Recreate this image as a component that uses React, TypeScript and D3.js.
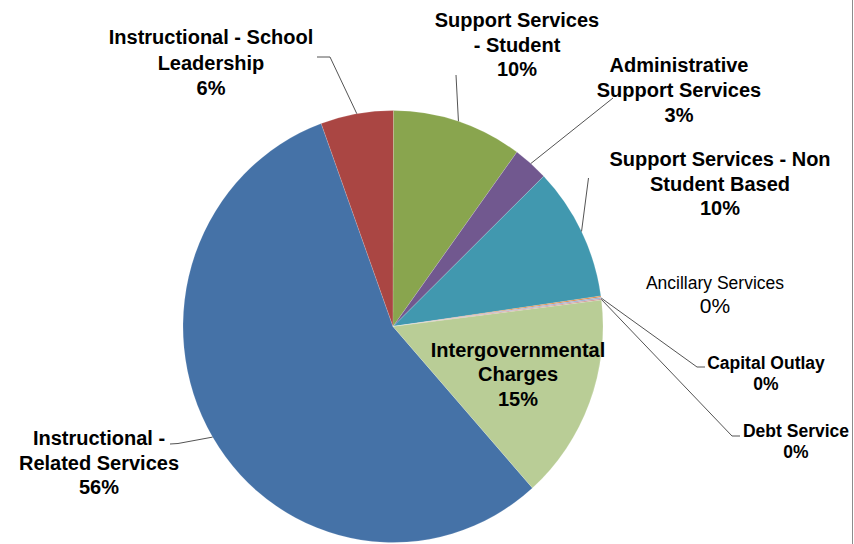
import React from "react";
import * as d3 from "d3";

// ---- data (Excel series order) ----
const categories = [
  "Instructional - Related Services",
  "Instructional - School Leadership",
  "Support Services - Student",
  "Administrative Support Services",
  "Support Services - Non Student Based",
  "Ancillary Services",
  "Capital Outlay",
  "Debt Service",
  "Intergovernmental Charges",
];
const values = [56.0, 5.6, 10.0, 2.7, 10.0, 0.1, 0.1, 0.1, 15.4];
const colors = [
  "#4572A7",
  "#AA4643",
  "#89A54E",
  "#71588F",
  "#4198AF",
  "#DB843D",
  "#93A9CF",
  "#D19392",
  "#B9CD96",
];
const labelLines = [
  ["Instructional -", "Related Services"],
  ["Instructional - School", "Leadership"],
  ["Support Services", "- Student"],
  ["Administrative", "Support Services"],
  ["Support Services - Non", "Student Based"],
  ["Ancillary Services"],
  ["Capital Outlay"],
  ["Debt Service"],
  ["Intergovernmental", "Charges"],
];

// ---- layout ----
const W = 854;
const H = 544;
const CX = 393;
const CY = 326.5;
const RX = 210;
const RY = 216;
const FIRST_SLICE_DEG = 138.4;

type Layout = {
  x: number;
  y: number; // first baseline
  lh: number;
  size: number;
  weight: string;
  pctSize?: number;
  leader?: [number, number][]; // from label side toward pie
};

const layouts: Layout[] = [
  { x: 99, y: 445, lh: 24.5, size: 20, weight: "bold", leader: [[170, 444], [178, 443.5]] },
  { x: 211, y: 44, lh: 25.5, size: 20, weight: "bold", leader: [[317, 57], [330, 57]] },
  { x: 517, y: 27, lh: 24.5, size: 20, weight: "bold", leader: [[456, 75]] },
  { x: 679, y: 72, lh: 25, size: 20, weight: "bold", leader: [[613, 98]] },
  { x: 720, y: 166, lh: 24.5, size: 20, weight: "bold", leader: [[588.5, 178]] },
  { x: 715, y: 289, lh: 24, size: 17.5, weight: "normal", pctSize: 21 },
  { x: 766, y: 369, lh: 21, size: 17.5, weight: "bold", leader: [[705, 367], [697, 367]] },
  { x: 796, y: 437, lh: 21, size: 17.5, weight: "bold", leader: [[740, 436], [732, 436]] },
  { x: 518, y: 356.5, lh: 24.5, size: 20, weight: "bold" },
];

export default function App() {
  const total = d3.sum(values);
  const start = (FIRST_SLICE_DEG * Math.PI) / 180;
  const pie = d3
    .pie<number>()
    .sort(null)
    .value((d) => d)
    .startAngle(start)
    .endAngle(start + 2 * Math.PI);
  const arcs = pie(values);
  const arcGen = d3.arc<d3.PieArcDatum<number>>().innerRadius(0).outerRadius(RY);
  const sx = RX / RY;

  const edgePoint = (a: d3.PieArcDatum<number>): [number, number] => {
    const m = (a.startAngle + a.endAngle) / 2;
    return [CX + RX * Math.sin(m), CY - RY * Math.cos(m)];
  };

  const font = "'Liberation Sans', Arial, Helvetica, sans-serif";

  return (
    <svg
      width={W}
      height={H}
      style={{ position: "absolute", left: 0, top: 0, background: "#fff" }}
      fontFamily={font}
    >
      <rect x={0} y={0} width={W} height={H} fill="#fff" />
      <g transform={`translate(${CX},${CY}) scale(${sx},1)`}>
        {arcs.map((a, i) => (
          <path
            key={categories[i]}
            d={arcGen(a) || ""}
            fill={colors[i]}
            stroke="#ffffff"
            strokeOpacity={0.3}
            strokeWidth={0.5}
            vectorEffect="non-scaling-stroke"
          />
        ))}
      </g>
      {arcs.map((a, i) => {
        const L = layouts[i];
        if (!L.leader) return null;
        const pts = [...L.leader, edgePoint(a)];
        const line = d3.line()(pts as [number, number][]) || "";
        return <path key={"l" + i} d={line} fill="none" stroke="#404040" strokeWidth={0.9} />;
      })}
      {arcs.map((a, i) => {
        const L = layouts[i];
        const pct = Math.round((values[i] / total) * 100) + "%";
        const lines = labelLines[i];
        return (
          <text
            key={"t" + i}
            x={L.x}
            y={L.y}
            textAnchor="middle"
            fontSize={L.size}
            fontWeight={L.weight}
            fill="#000"
          >
            {lines.map((s, j) => (
              <tspan key={j} x={L.x} y={L.y + j * L.lh}>
                {s}
              </tspan>
            ))}
            <tspan
              x={L.x}
              y={L.y + lines.length * L.lh}
              fontSize={L.pctSize || L.size}
            >
              {pct}
            </tspan>
          </text>
        );
      })}
      <line x1={852.5} y1={0} x2={852.5} y2={H} stroke="#8c8c8c" strokeWidth={1} />
    </svg>
  );
}
